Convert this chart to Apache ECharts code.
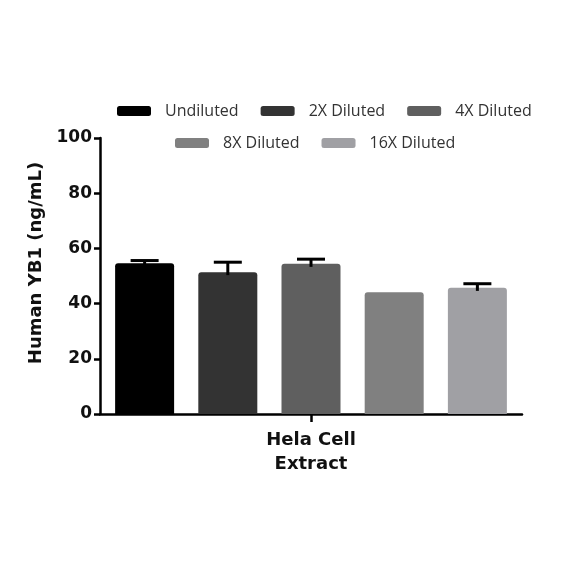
<!DOCTYPE html>
<html>
<head>
<meta charset="utf-8">
<script src="https://cdn.jsdelivr.net/npm/echarts@6/dist/echarts.min.js"></script>
<style>
  html, body { margin: 0; padding: 0; background: #fff; }
  #chart { width: 584px; height: 584px; }
</style>
</head>
<body>
<div id="chart"></div>
<script>
const categories = ['Hela Cell\nExtract']
const seriesNames = ['Undiluted', '2X Diluted', '4X Diluted', '8X Diluted', '16X Diluted']
const means = [54.6, 51.4, 54.4, 44.1, 45.7]
const errors = [1.0, 3.6, 1.7, 0, 1.5]
const colors = ['#000000', '#333333', '#5f5f5f', '#808080', '#a0a0a4']
const yTicks = [0, 20, 40, 60, 80, 100]

const BAR_W = 59, BAR_GAP = '41%'
const font = 'DejaVu Sans'

const chart = echarts.init(document.getElementById('chart'), null, { renderer: 'canvas' })

const barSeries = seriesNames.map((name, i) => ({
  name, type: 'bar',
  data: [means[i]],
  barWidth: BAR_W, barGap: BAR_GAP,
  itemStyle: { color: colors[i], borderRadius: [3, 3, 0, 0] },
  z: 2
}))

// error bars (upper half only), placed with the same bar layout as the bars
const errSeries = {
  type: 'custom',
  z: 5,
  data: seriesNames.map((n, i) => [0, means[i], means[i] + errors[i], i]),
  renderItem: (params, api) => {
    const idx = api.value(3)
    const layout = api.barLayout({ barWidth: BAR_W, barGap: BAR_GAP, count: seriesNames.length })
    const base = api.coord([api.value(0), api.value(1)])
    const top = api.coord([api.value(0), api.value(2)])
    const x = base[0] + layout[idx].offsetCenter
    if (api.value(2) <= api.value(1)) return null
    const st = { stroke: '#000', lineWidth: 3 }
    return {
      type: 'group',
      children: [
        { type: 'line', shape: { x1: x, y1: base[1] + 3, x2: x, y2: top[1] }, style: st },
        { type: 'line', shape: { x1: x - 14, y1: top[1], x2: x + 14, y2: top[1] }, style: st }
      ]
    }
  }
}

const legendCommon = {
  icon: 'roundRect', itemWidth: 34, itemHeight: 10, itemGap: 22,
  textStyle: { fontFamily: 'Open Sans', fontSize: 16, color: '#333', padding: [0, 0, 0, 9] }
}

chart.setOption({
  backgroundColor: '#fff',
  animation: false,
  legend: [
    Object.assign({ data: seriesNames.slice(0, 3), left: 112, top: 98 }, legendCommon),
    Object.assign({ data: seriesNames.slice(3), left: 170, top: 130 }, legendCommon)
  ],
  grid: { left: 100, right: 62, top: 138, bottom: 170 },
  xAxis: {
    type: 'category', data: categories,
    axisLine: { lineStyle: { color: '#000', width: 2.5 } },
    axisTick: { show: true, alignWithLabel: true, length: 8, lineStyle: { color: '#000', width: 2.5 } },
    axisLabel: { color: '#111', fontFamily: font, fontWeight: 'bold', fontSize: 18, lineHeight: 24, margin: 14 }
  },
  yAxis: {
    type: 'value', min: yTicks[0], max: yTicks[yTicks.length - 1], interval: 20,
    name: 'Human YB1 (ng/mL)', nameLocation: 'middle', nameGap: 53,
    nameTextStyle: { color: '#111', fontFamily: font, fontWeight: 'bold', fontSize: 18, padding: [0, 0, 0, 26] },
    splitLine: { show: false },
    axisLine: { show: true, lineStyle: { color: '#000', width: 2.5 } },
    axisTick: { show: true, length: 6, lineStyle: { color: '#000', width: 2.5 } },
    axisLabel: { color: '#111', fontFamily: font, fontWeight: 'bold', fontSize: 17, margin: 8 }
  },
  series: [...barSeries, errSeries]
})
</script>
</body>
</html>
